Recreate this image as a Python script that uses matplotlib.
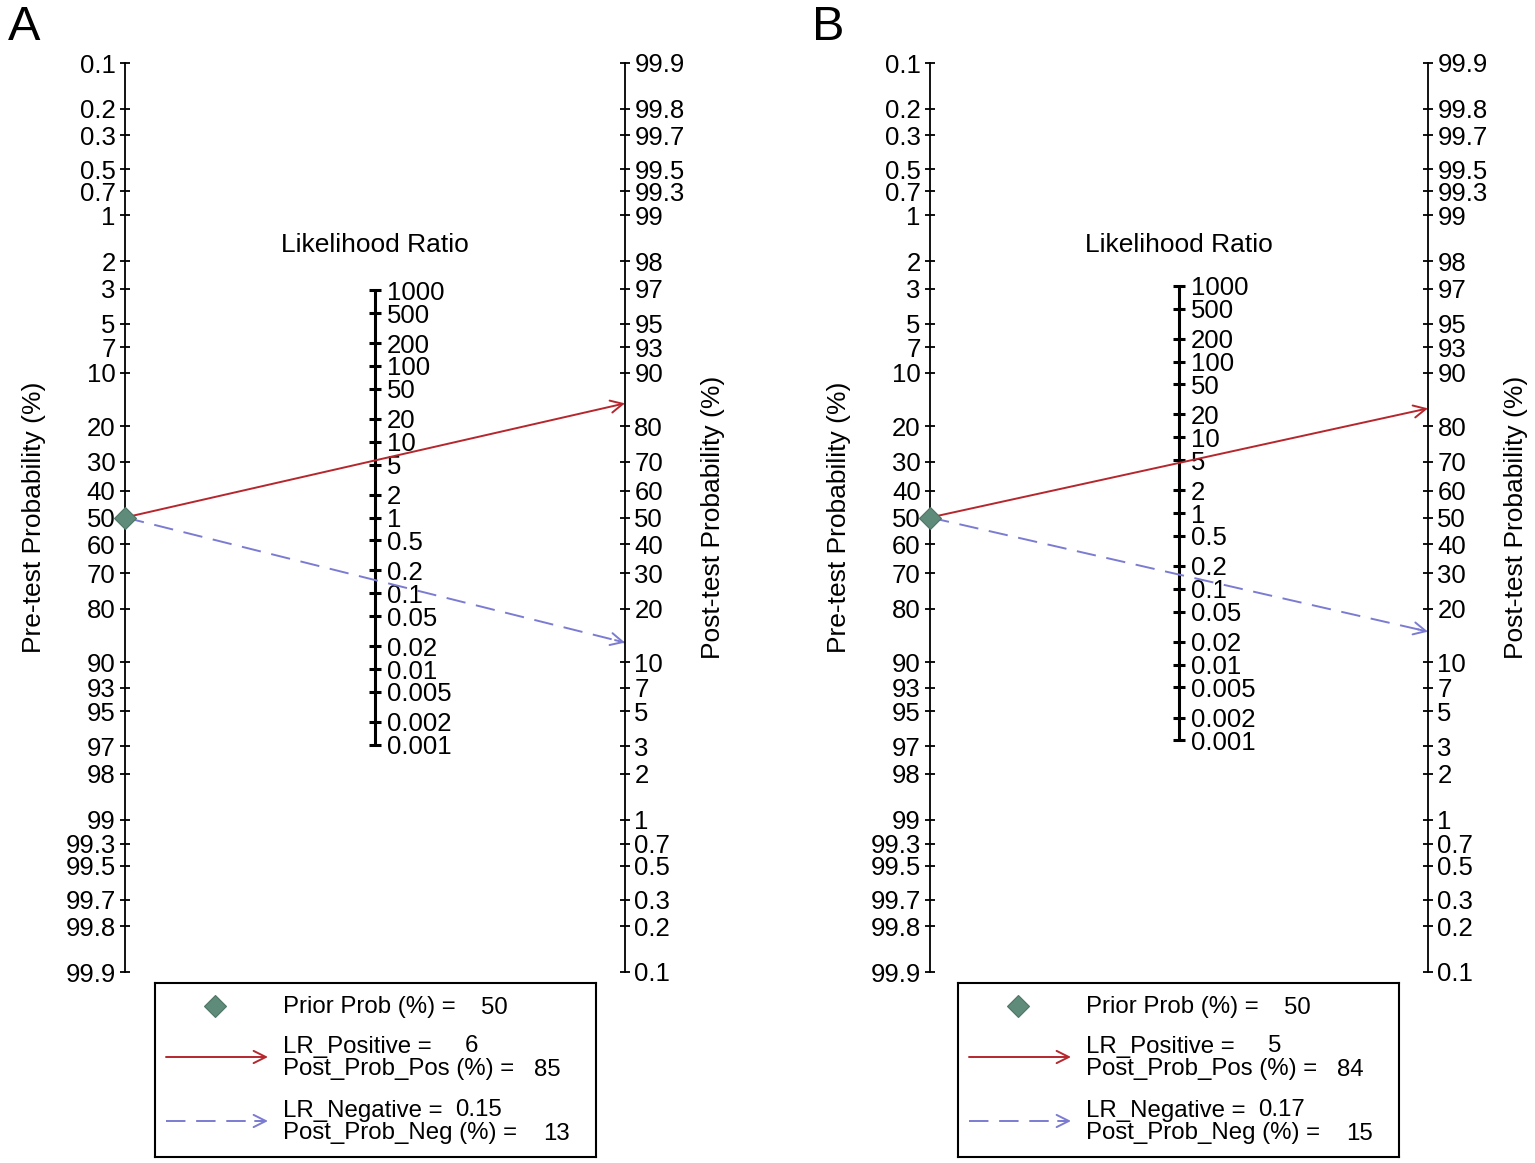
import numpy as np
import matplotlib
matplotlib.use("Agg")
import matplotlib.pyplot as plt

plt.rcParams['font.family'] = ['Liberation Sans', 'DejaVu Sans']

# ---------------- data ----------------
prob_ticks = [0.1, 0.2, 0.3, 0.5, 0.7, 1, 2, 3, 5, 7, 10, 20, 30, 40, 50, 60, 70,
              80, 90, 93, 95, 97, 98, 99, 99.3, 99.5, 99.7, 99.8, 99.9]
prob_labels = ["0.1", "0.2", "0.3", "0.5", "0.7", "1", "2", "3", "5", "7", "10", "20",
               "30", "40", "50", "60", "70", "80", "90", "93", "95", "97", "98", "99",
               "99.3", "99.5", "99.7", "99.8", "99.9"]
lr_ticks = [1000, 500, 200, 100, 50, 20, 10, 5, 2, 1, 0.5, 0.2, 0.1, 0.05, 0.02,
            0.01, 0.005, 0.002, 0.001]
lr_labels = ["1000", "500", "200", "100", "50", "20", "10", "5", "2", "1", "0.5",
             "0.2", "0.1", "0.05", "0.02", "0.01", "0.005", "0.002", "0.001"]

panels = ["A", "B"]
prior_prob = [50, 50]
lr_positive = [6, 5]
post_prob_pos = [85, 84]
lr_negative = [0.15, 0.17]
post_prob_neg = [13, 15]

lr_pos_txt = ["6", "5"]
lr_neg_txt = ["0.15", "0.17"]

# ---------------- style ----------------
RED = "#b5272d"
BLUE = "#7b7bd2"
DIAMOND = "#5f8b7a"
TICK_FS = 18.5
LAB_FS = 19
LEG_FS = 17.3

W, H = 1535, 1163
fig = plt.figure(figsize=(W / 100, H / 100), dpi=100)


def logit(p):
    p = np.asarray(p, dtype=float) / 100.0
    return np.log(p / (1 - p))


LIM = float(logit(99.9))

# panel layout (pixels)
ax_left = [125, 930]
ax_w = [500, 498]
ax_top, ax_bot = 63, 972
lr_shift = [0.0, -0.068]
leg_left = [155, 958]
leg_top, leg_bot = 983, 1157
leg_w = 441
letter_x = [8, 812]

for i in range(2):
    ax = fig.add_axes([ax_left[i] / W, 1 - ax_bot / H, ax_w[i] / W, (ax_bot - ax_top) / H])
    ax.set_xlim(0, 1)
    ax.set_ylim(LIM, -LIM)
    ax.patch.set_alpha(0)
    for s in ["top", "bottom", "right"]:
        ax.spines[s].set_visible(False)
    ax.spines["left"].set_linewidth(1.3)
    ax.set_xticks([])
    ax.set_yticks(logit(prob_ticks))
    ax.set_yticklabels(prob_labels)
    ax.tick_params(axis="y", direction="inout", length=7.5, width=1.3,
                   labelsize=TICK_FS, pad=3)
    ax.set_ylabel("Pre-test Probability (%)", fontsize=LAB_FS)
    ax.yaxis.set_label_coords(-0.158, 0.5)

    tw = ax.twinx()
    tw.set_ylim(LIM, -LIM)
    for s in ["top", "bottom", "left"]:
        tw.spines[s].set_visible(False)
    tw.spines["right"].set_linewidth(1.3)
    tw.set_yticks(-logit(prob_ticks))
    tw.set_yticklabels(prob_labels)
    tw.tick_params(axis="y", direction="inout", length=7.5, width=1.3,
                   labelsize=TICK_FS, pad=3)
    tw.set_ylabel("Post-test Probability (%)", fontsize=LAB_FS)
    tw.yaxis.set_label_coords(1.152, 0.5)

    # likelihood ratio scale
    lr_y = -np.log(np.array(lr_ticks, dtype=float)) / 2 + lr_shift[i]
    ax.plot([0.5, 0.5], [lr_y[0], lr_y[-1]], color="black", lw=2.2,
            solid_capstyle="butt", zorder=3)
    ax.plot(np.full(len(lr_y), 0.5), lr_y, linestyle="none", marker="_",
            markersize=8, markeredgewidth=2.2, color="black", zorder=3)
    for y, lab in zip(lr_y, lr_labels):
        ax.annotate(lab, xy=(0.5, y), xytext=(8.5, 0), textcoords="offset points",
                    ha="left", va="center_baseline", fontsize=TICK_FS)
    ax.text(0.5, 0.803, "Likelihood Ratio", transform=ax.transAxes,
            ha="center", va="center_baseline", fontsize=LAB_FS)

    # lines
    y0 = float(logit(prior_prob[i]))
    yp = -float(logit(post_prob_pos[i]))
    yn = -float(logit(post_prob_neg[i]))
    ax.annotate("", xy=(1, yp), xytext=(0, y0),
                arrowprops=dict(arrowstyle="->", color=RED, lw=1.4,
                                mutation_scale=22, shrinkA=0, shrinkB=0),
                zorder=4, annotation_clip=False)
    ax.plot([0, 1], [y0, yn], color=BLUE, lw=1.4, linestyle=(0, (10, 5.5)),
            zorder=4, clip_on=False)
    f = 0.02
    ax.annotate("", xy=(1, yn), xytext=(1 - f, yn - f * (yn - y0)),
                arrowprops=dict(arrowstyle="->", color=BLUE, lw=1.4,
                                mutation_scale=22, shrinkA=0, shrinkB=0),
                zorder=4, annotation_clip=False)
    ax.plot([0], [y0], marker="D", markersize=11.5, color=DIAMOND,
            markeredgecolor="#4d7566", markeredgewidth=0.8, clip_on=False, zorder=5)

    fig.text(letter_x[i] / W, 1 - 23 / H, panels[i], fontsize=35,
             ha="left", va="center_baseline")

    # legend box
    lg = fig.add_axes([leg_left[i] / W, 1 - leg_bot / H, leg_w / W, (leg_bot - leg_top) / H])
    lg.set_xlim(0, leg_w)
    lg.set_ylim(leg_bot - leg_top, 0)
    lg.set_xticks([])
    lg.set_yticks([])
    for s in lg.spines.values():
        s.set_linewidth(1.5)
    lg.plot([60], [23], marker="D", markersize=11.5, color=DIAMOND,
            markeredgecolor="#4d7566", markeredgewidth=0.8)
    lg.annotate("", xy=(113, 74), xytext=(11, 74),
                arrowprops=dict(arrowstyle="->", color=RED, lw=1.4,
                                mutation_scale=22, shrinkA=0, shrinkB=0))
    lg.plot([11, 108], [138, 138], color=BLUE, lw=1.4, linestyle=(0, (10, 5.5)))
    lg.annotate("", xy=(113, 138), xytext=(100, 138),
                arrowprops=dict(arrowstyle="->", color=BLUE, lw=1.4,
                                mutation_scale=22, shrinkA=0, shrinkB=0))
    tx = 128
    rows = [
        (22, "Prior Prob (%) =", f"{prior_prob[i]}", 353),
        (61, "LR_Positive =", lr_pos_txt[i], 323),
        (84, "Post_Prob_Pos (%) =", f"{post_prob_pos[i]}", 406),
        (125, "LR_Negative =", lr_neg_txt[i], 347),
        (148, "Post_Prob_Neg (%) =", f"{post_prob_neg[i]}", 415),
    ]
    for y, lab, val, vx in rows:
        lg.text(tx, y, lab, ha="left", va="center_baseline", fontsize=LEG_FS)
        lg.text(vx, y, val, ha="right", va="center_baseline", fontsize=LEG_FS)

fig.savefig("out.png", dpi=100, facecolor="white")
